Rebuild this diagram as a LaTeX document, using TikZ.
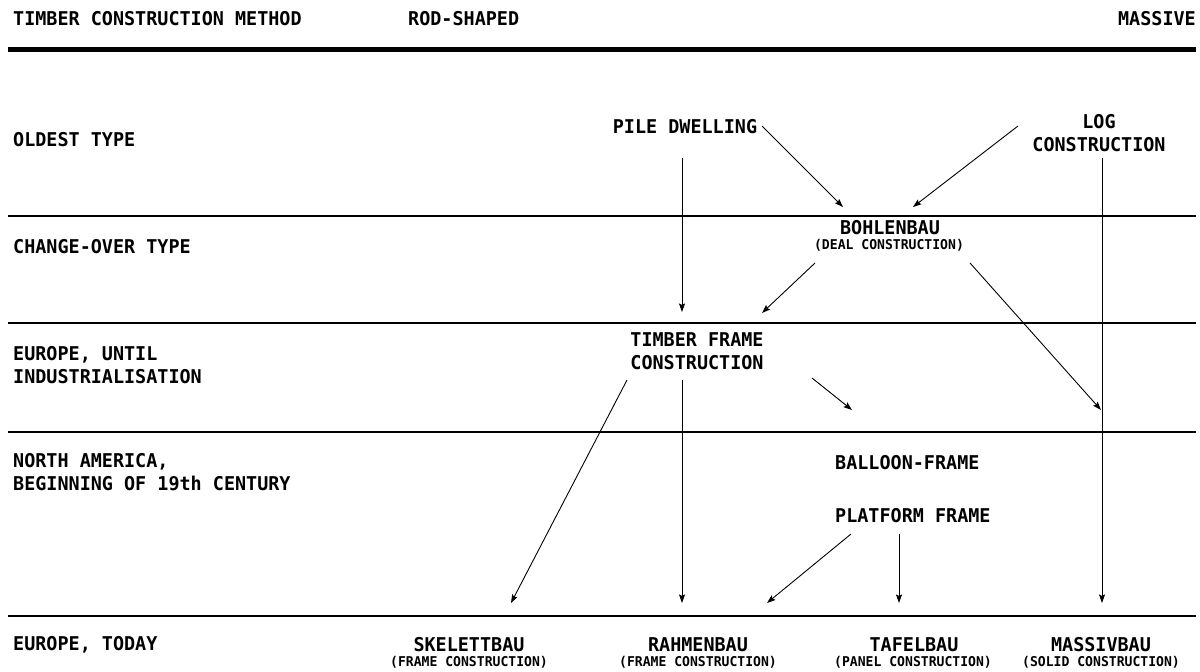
\documentclass[tikz,border=0pt]{standalone}
\usepackage{fontspec}
\usetikzlibrary{arrows.meta}
\newfontfamily\lblfont[FakeStretch=0.97]{DejaVu Sans Mono}
\begin{document}
\begin{tikzpicture}[x=1pt,y=-1pt,
  lab/.style={font=\lblfont\bfseries\fontsize{19}{23}\selectfont, inner sep=0pt, anchor=west},
  mid/.style={lab, anchor=center, align=center},
  small/.style={font=\lblfont\bfseries\fontsize{13.5}{15}\selectfont, inner sep=0pt, anchor=center},
  conn/.style={-{Stealth[length=8.5pt,width=6pt,inset=1.5pt]}, line width=0.9pt},
  rule/.style={line width=2.2pt},
  thickrule/.style={line width=5pt}]
\useasboundingbox (0,0) rectangle (1200,672);
% header
\node[lab] (h1) at (13,19) {TIMBER CONSTRUCTION METHOD};
\node[lab] (h2) at (408,19) {ROD-SHAPED};
\node[lab, anchor=east] (h3) at (1196,19) {MASSIVE};
\coordinate (tl) at (8,49.5); \coordinate (tr) at (1196,49.5);
\draw[thickrule] (tl) -- (tr);
\foreach \yy/\nm in {216/a,323/b,432/c,616/d}{
  \coordinate (l\nm) at (8,\yy); \coordinate (r\nm) at (1196,\yy);
  \draw[rule] (l\nm) -- (r\nm);
}
% left labels
\node[lab] (r1) at (13,140) {OLDEST TYPE};
\node[lab] (r2) at (13,247) {CHANGE-OVER TYPE};
\node[lab, align=left] (r3) at (13,365.5) {EUROPE, UNTIL\\INDUSTRIALISATION};
\node[lab, align=left] (r4) at (13,472.5) {NORTH AMERICA,\\BEGINNING OF 19th CENTURY};
\node[lab] (r5) at (13,645) {EUROPE, TODAY};
% middle nodes
\node[mid] (pile) at (685,127) {PILE DWELLING};
\node[mid] (log) at (1099,133) {LOG\\CONSTRUCTION};
\node[mid] (bohlen) at (890,228) {BOHLENBAU};
\node[small] (deal) at (889,245) {(DEAL CONSTRUCTION)};
\node[mid] (tfc) at (697,351) {TIMBER FRAME\\CONSTRUCTION};
\node[lab] (balloon) at (835,463) {BALLOON-FRAME};
\node[lab] (platform) at (835,516) {PLATFORM FRAME};
% bottom nodes
\node[mid] (skel) at (469,645) {SKELETTBAU};
\node[small] (skels) at (469,662) {(FRAME CONSTRUCTION)};
\node[mid] (rahm) at (698,645) {RAHMENBAU};
\node[small] (rahms) at (698,662) {(FRAME CONSTRUCTION)};
\node[mid] (tafel) at (914,645) {TAFELBAU};
\node[small] (tafels) at (913,662) {(PANEL CONSTRUCTION)};
\node[mid] (mass) at (1101,645) {MASSIVBAU};
\node[small] (masss) at (1101,662) {(SOLID CONSTRUCTION)};
% connector endpoints
\coordinate (p1) at (682,158); \coordinate (p2) at (682,312);
\coordinate (p3) at (762,126); \coordinate (p4) at (843,207);
\coordinate (g1) at (1018,126); \coordinate (g2) at (913,207);
\coordinate (g3) at (1102,158); \coordinate (g4) at (1102,603);
\coordinate (b1) at (815,263); \coordinate (b2) at (762,313);
\coordinate (b3) at (970,263); \coordinate (b4) at (1101,410);
\coordinate (t1) at (812,378); \coordinate (t2) at (852,410);
\coordinate (t3) at (627,380); \coordinate (t4) at (511,603);
\coordinate (t5) at (682,380); \coordinate (t6) at (682,603);
\coordinate (f1) at (851,534); \coordinate (f2) at (767,603);
\coordinate (f3) at (899,534); \coordinate (f4) at (899,603);
\draw[conn] (p1) -- (p2);
\draw[conn] (p3) -- (p4);
\draw[conn] (g1) -- (g2);
\draw[conn] (g3) -- (g4);
\draw[conn] (b1) -- (b2);
\draw[conn] (b3) -- (b4);
\draw[conn] (t1) -- (t2);
\draw[conn] (t3) -- (t4);
\draw[conn] (t5) -- (t6);
\draw[conn] (f1) -- (f2);
\draw[conn] (f3) -- (f4);
\end{tikzpicture}
\end{document}
